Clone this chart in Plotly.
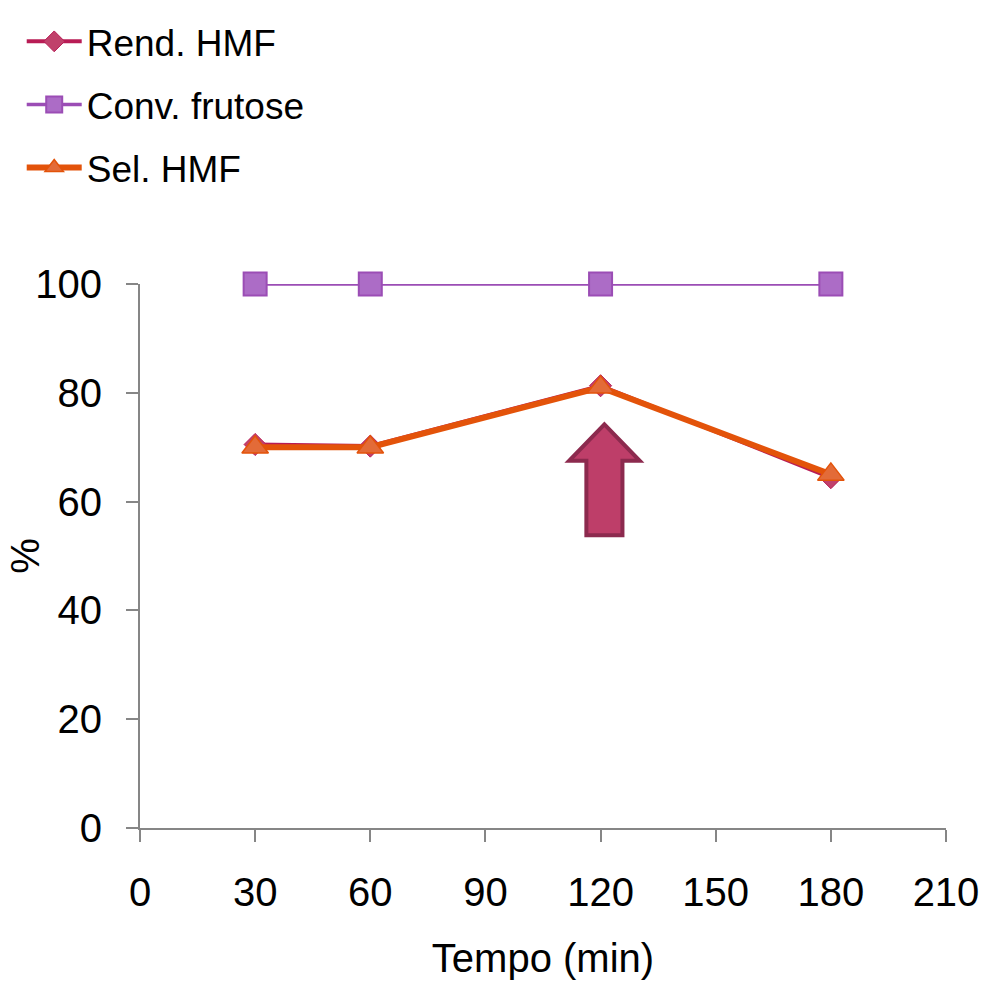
import plotly.graph_objects as go

tempo = [30, 60, 120, 180]
rend_hmf = [70.5, 70.2, 81.3, 64.4]
conv_frutose = [100, 100, 100, 100]
sel_hmf = [70.0, 70.0, 81.0, 65.0]

x_ticks = [0, 30, 60, 90, 120, 150, 180, 210]
y_ticks = [0, 20, 40, 60, 80, 100]

# highlight arrow (data coordinates): tip, head base, shaft half-widths
arrow_x = 121
arrow_tip, arrow_head_base, arrow_bottom = 74.2, 67.5, 53.8
head_half, shaft_half = 9.2, 4.7

FONT = "Liberation Sans, Arial, sans-serif"
FS = 40

fig = go.Figure()

fig.add_trace(go.Scatter(
    x=tempo, y=rend_hmf, name="Rend. HMF", mode="lines+markers",
    line=dict(color="#B81C55", width=4),
    marker=dict(symbol="diamond", size=17, color="#C0416B",
                line=dict(color="#B81C55", width=1)),
    legendgroup="a", cliponaxis=False,
))
fig.add_trace(go.Scatter(
    x=tempo, y=conv_frutose, name="Conv. frutose", mode="lines+markers",
    line=dict(color="#9B4DB5", width=3.5),
    marker=dict(symbol="square", size=23, color="#AC6CC6",
                line=dict(color="#9B4DB5", width=2)),
    legendgroup="b", cliponaxis=False,
))
fig.add_trace(go.Scatter(
    x=tempo, y=sel_hmf, name="Sel. HMF", mode="lines+markers",
    line=dict(color="#E3530A", width=6),
    marker=dict(symbol="triangle-up", size=23, color="#E36B38",
                line=dict(color="#E3530A", width=1.5)),
    legendgroup="c", cliponaxis=False,
))

ax0 = arrow_x
path = (f"M {ax0} {arrow_tip} "
        f"L {ax0 + head_half} {arrow_head_base} "
        f"L {ax0 + shaft_half} {arrow_head_base} "
        f"L {ax0 + shaft_half} {arrow_bottom} "
        f"L {ax0 - shaft_half} {arrow_bottom} "
        f"L {ax0 - shaft_half} {arrow_head_base} "
        f"L {ax0 - head_half} {arrow_head_base} Z")
fig.add_shape(type="path", path=path, xref="x", yref="y",
              fillcolor="#BE3E69", line=dict(color="#8C2A4E", width=4))

axis_common = dict(
    showgrid=False, zeroline=False, showline=True,
    linecolor="#868686", linewidth=2,
    ticks="outside", ticklen=12, tickwidth=2, tickcolor="#868686",
    tickfont=dict(family=FONT, size=FS, color="#000000"),
    ticklabelstandoff=16, automargin=False,
)

fig.update_xaxes(range=[0, 210], tickvals=x_ticks,
                 title=dict(text="Tempo (min)", font=dict(family=FONT, size=FS, color="#000000"), standoff=31),
                 **axis_common)
fig.update_yaxes(range=[0, 100], tickvals=y_ticks, **axis_common)

fig.add_annotation(text="%", xref="paper", yref="paper", x=-0.143, y=0.50,
                   xanchor="center", yanchor="middle", textangle=-90,
                   showarrow=False, font=dict(family=FONT, size=FS, color="#000000"))

fig.update_layout(
    width=987, height=982,
    margin=dict(l=140, r=41, t=284, b=154, autoexpand=False),
    paper_bgcolor="white", plot_bgcolor="white",
    showlegend=True,
    legend=dict(x=0.022, y=0.989, xref="container", yref="container",
                xanchor="left", yanchor="top",
                font=dict(family=FONT, size=37, color="#000000"),
                itemwidth=55, tracegroupgap=12, bgcolor="rgba(0,0,0,0)"),
)

fig.write_html("out.html")
